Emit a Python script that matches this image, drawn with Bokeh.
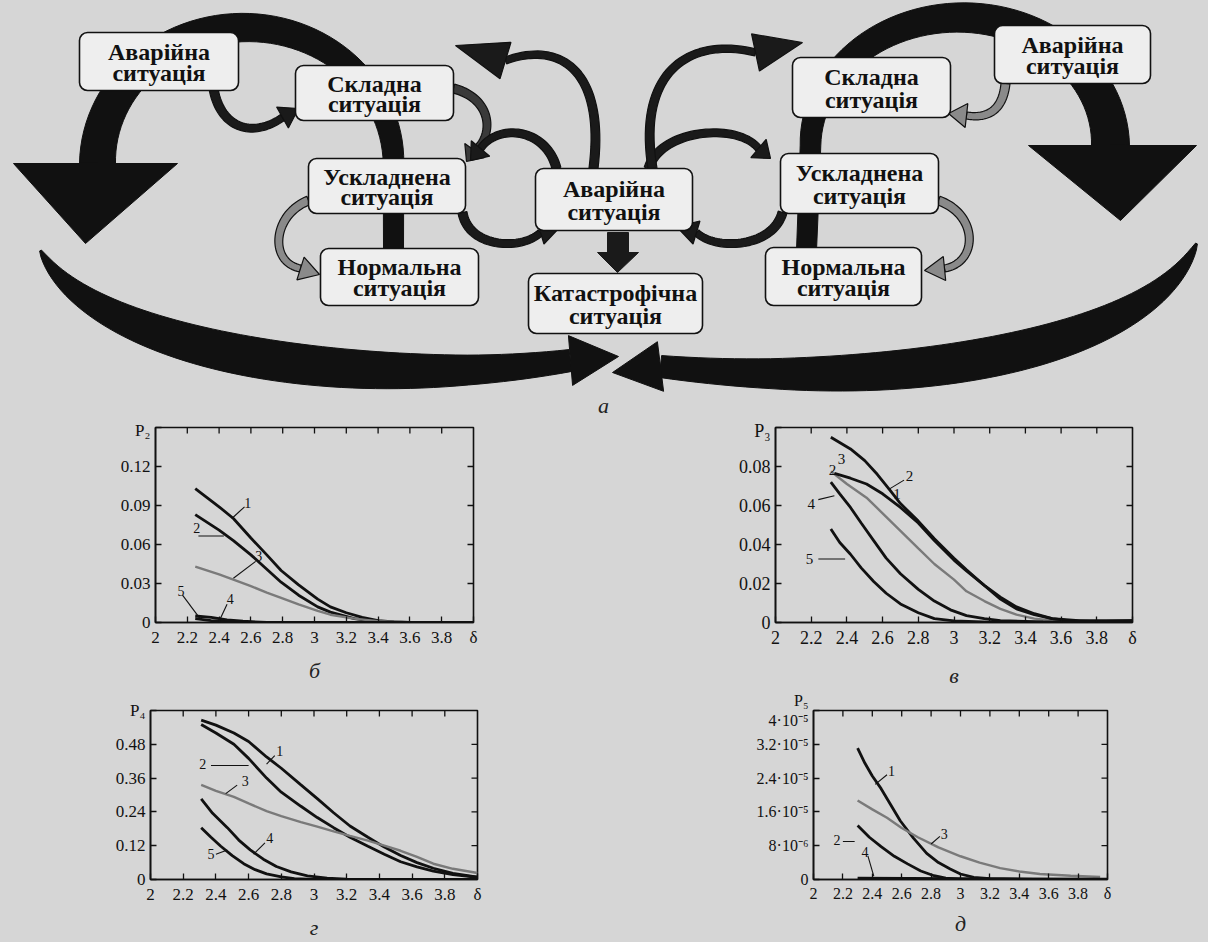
import numpy as np
from bokeh.plotting import figure
from bokeh.layouts import column, row
from bokeh.models import Range1d, FixedTicker
from bokeh.embed import file_html
from bokeh.resources import INLINE
from bokeh.core.properties import value

BG = "#d6d6d6"
BOXFILL = "#eeeeee"
SERIF = "Liberation Serif"

# ---------------- data ----------------
delta_ticks = [2.0, 2.2, 2.4, 2.6, 2.8, 3.0, 3.2, 3.4, 3.6, 3.8, 4.0]
delta_labels = ["2", "2.2", "2.4", "2.6", "2.8", "3", "3.2", "3.4", "3.6", "3.8", "δ"]

# б : P2
p2_ticks = [0.0, 0.03, 0.06, 0.09, 0.12, 0.15]
p2_labels = ["0", "0.03", "0.06", "0.09", "0.12", "P₂"]
p2_d1 = [2.25, 2.4, 2.49, 2.6, 2.7, 2.79, 2.9, 3.02, 3.1, 3.2, 3.3, 3.4, 3.5, 3.6, 4.0]
p2_c1 = [0.103, 0.089, 0.080, 0.065, 0.052, 0.040, 0.029, 0.018, 0.012, 0.0075, 0.004, 0.0015, 0.0005, 0.0, 0.0]
p2_d2 = [2.25, 2.4, 2.49, 2.6, 2.7, 2.79, 2.9, 3.02, 3.1, 3.25, 3.4, 3.6, 4.0]
p2_c2 = [0.083, 0.071, 0.063, 0.052, 0.041, 0.031, 0.021, 0.012, 0.008, 0.003, 0.0005, 0.0, 0.0]
p2_d3 = [2.25, 2.4, 2.49, 2.6, 2.7, 2.79, 2.9, 3.02, 3.1, 3.25, 3.4, 3.6, 4.0]
p2_c3 = [0.043, 0.037, 0.033, 0.028, 0.023, 0.019, 0.014, 0.009, 0.006, 0.003, 0.001, 0.0, 0.0]
p2_d4 = [2.25, 2.35, 2.5, 2.6, 4.0]
p2_c4 = [0.003, 0.0015, 0.0005, 0.0, 0.0]
p2_d5 = [2.25, 2.35, 2.45, 2.55, 2.7, 4.0]
p2_c5 = [0.005, 0.004, 0.002, 0.001, 0.0, 0.0]
p2_lab = ["1", "2", "3", "4", "5"]
p2_lab_x = [2.58, 2.26, 2.65, 2.47, 2.16]
p2_lab_y = [0.092, 0.073, 0.051, 0.018, 0.024]

# в : P3
p3_ticks = [0.0, 0.02, 0.04, 0.06, 0.08, 0.1]
p3_labels = ["0", "0.02", "0.04", "0.06", "0.08", "P₃"]
p3_d1 = [2.31, 2.4, 2.51, 2.6, 2.7, 2.8, 2.89, 3.0, 3.07, 3.17, 3.26, 3.35, 3.45, 3.6, 4.0]
p3_c1 = [0.0775, 0.071, 0.064, 0.056, 0.047, 0.038, 0.030, 0.022, 0.016, 0.011, 0.007, 0.004, 0.002, 0.0005, 0.0003]
p3_d2 = [2.33, 2.42, 2.51, 2.6, 2.7, 2.8, 2.89, 3.0, 3.07, 3.17, 3.26, 3.35, 3.45, 3.55, 3.64, 3.8, 4.0]
p3_c2 = [0.0765, 0.074, 0.071, 0.066, 0.059, 0.051, 0.042, 0.032, 0.0265, 0.019, 0.013, 0.008, 0.0045, 0.002, 0.001, 0.0005, 0.001]
p3_d3 = [2.31, 2.42, 2.5, 2.57, 2.64, 2.7, 2.8, 2.89, 3.0, 3.07, 3.17, 3.26, 3.35, 3.45, 3.55, 3.7, 4.0]
p3_c3 = [0.095, 0.089, 0.083, 0.076, 0.068, 0.061, 0.052, 0.043, 0.033, 0.027, 0.019, 0.012, 0.007, 0.004, 0.002, 0.001, 0.001]
p3_d4 = [2.31, 2.36, 2.42, 2.48, 2.55, 2.62, 2.7, 2.8, 2.89, 2.98, 3.07, 3.17, 3.26, 3.5, 4.0]
p3_c4 = [0.072, 0.066, 0.059, 0.051, 0.042, 0.033, 0.025, 0.017, 0.011, 0.0065, 0.0035, 0.002, 0.001, 0.0003, 0.0]
p3_d5 = [2.31, 2.36, 2.42, 2.48, 2.55, 2.62, 2.7, 2.8, 2.89, 3.0, 3.2, 4.0]
p3_c5 = [0.048, 0.041, 0.035, 0.028, 0.021, 0.015, 0.0095, 0.005, 0.002, 0.0008, 0.0002, 0.0]
p3_lab = ["3", "2", "2", "1", "4", "5"]
p3_lab_x = [2.37, 2.32, 2.75, 2.68, 2.2, 2.19]
p3_lab_y = [0.084, 0.078, 0.075, 0.066, 0.061, 0.0326]

# г : P4
p4_ticks = [0.0, 0.12, 0.24, 0.36, 0.48, 0.6]
p4_labels = ["0", "0.12", "0.24", "0.36", "0.48", "P₄"]
p4_d1 = [2.31, 2.4, 2.51, 2.6, 2.71, 2.8, 2.92, 3.02, 3.12, 3.22, 3.33, 3.43, 3.53, 3.63, 3.73, 3.85, 4.0]
p4_c1 = [0.566, 0.548, 0.52, 0.49, 0.435, 0.395, 0.336, 0.287, 0.237, 0.19, 0.15, 0.115, 0.085, 0.06, 0.04, 0.022, 0.008]
p4_d2 = [2.31, 2.4, 2.51, 2.6, 2.71, 2.8, 2.92, 3.02, 3.12, 3.22, 3.33, 3.43, 3.53, 3.63, 3.73, 3.85, 4.0]
p4_c2 = [0.55, 0.52, 0.48, 0.43, 0.36, 0.31, 0.26, 0.22, 0.184, 0.15, 0.118, 0.09, 0.063, 0.045, 0.03, 0.017, 0.008]
p4_d3 = [2.31, 2.4, 2.51, 2.6, 2.71, 2.8, 2.92, 3.02, 3.12, 3.22, 3.33, 3.43, 3.53, 3.63, 3.73, 3.85, 4.0]
p4_c3 = [0.336, 0.315, 0.293, 0.27, 0.243, 0.225, 0.204, 0.188, 0.171, 0.155, 0.138, 0.12, 0.102, 0.08, 0.056, 0.038, 0.023]
p4_d4 = [2.31, 2.38, 2.47, 2.54, 2.61, 2.69, 2.77, 2.86, 2.96, 3.08, 3.2, 3.5, 4.0]
p4_c4 = [0.286, 0.235, 0.184, 0.14, 0.105, 0.072, 0.046, 0.027, 0.013, 0.005, 0.001, 0.0, 0.0]
p4_d5 = [2.31, 2.37, 2.43, 2.5, 2.57, 2.64, 2.71, 2.8, 2.88, 3.0, 4.0]
p4_c5 = [0.184, 0.15, 0.118, 0.085, 0.056, 0.035, 0.02, 0.009, 0.003, 0.0, 0.0]
p4_lab = ["1", "2", "3", "4", "5"]
p4_lab_x = [2.79, 2.32, 2.58, 2.73, 2.37]
p4_lab_y = [0.455, 0.41, 0.35, 0.148, 0.089]

# д : P5
p5_ticks = [0.0, 8e-6, 1.6e-5, 2.4e-5, 3.2e-5, 4e-5]
p5_labels = ["0", "8·10⁻⁶", "1.6·10⁻⁵", "2.4·10⁻⁵", "3.2·10⁻⁵", "P₅\n4·10⁻⁵"]
p5_d1 = [2.30, 2.35, 2.4, 2.46, 2.52, 2.59, 2.68, 2.77, 2.85, 2.93, 3.0, 3.09, 3.2, 3.5, 4.0]
p5_c1 = [3.11e-5, 2.75e-5, 2.45e-5, 2.15e-5, 1.8e-5, 1.39e-5, 0.98e-5, 0.62e-5, 0.4e-5, 0.25e-5, 0.13e-5, 0.05e-5, 0.02e-5, 0.0, 0.0]
p5_d2 = [2.30, 2.38, 2.46, 2.55, 2.64, 2.73, 2.82, 2.9, 3.0, 4.0]
p5_c2 = [1.28e-5, 1.0e-5, 0.78e-5, 0.55e-5, 0.37e-5, 0.2e-5, 0.09e-5, 0.03e-5, 0.0, 0.0]
p5_d3 = [2.30, 2.4, 2.5, 2.6, 2.71, 2.85, 3.0, 3.13, 3.27, 3.4, 3.54, 3.75, 3.95]
p5_c3 = [1.87e-5, 1.66e-5, 1.46e-5, 1.22e-5, 1.0e-5, 0.76e-5, 0.55e-5, 0.4e-5, 0.27e-5, 0.19e-5, 0.13e-5, 0.09e-5, 0.06e-5]
p5_d4 = [2.30, 3.0, 4.0]
p5_c4 = [0.03e-5, 0.02e-5, 0.01e-5]
p5_lab = ["1", "2", "3", "4"]
p5_lab_x = [2.53, 2.16, 2.89, 2.35]
p5_lab_y = [2.56e-5, 0.94e-5, 1.08e-5, 0.64e-5]

# diagram boxes: (left, right, top, bottom) and two text lines
box_left = [79, 295, 308, 320, 535, 528, 792, 994, 780, 765]
box_right = [238, 453, 465, 478, 692, 702, 950, 1150, 938, 921]
box_top = [32, 65, 158, 248, 168, 273, 57, 25, 153, 247]
box_bottom = [90, 120, 213, 305, 230, 333, 117, 83, 213, 305]
box_line1 = ["Аварійна", "Складна", "Ускладнена", "Нормальна", "Аварійна",
             "Катастрофічна", "Складна", "Аварійна", "Ускладнена", "Нормальна"]
box_line2 = ["ситуація"] * 10


# ---------------- diagram ----------------
def cubic(P, n=40):
    t = np.linspace(0, 1, n)[:, None]
    P = np.array(P, float)
    return (1 - t) ** 3 * P[0] + 3 * (1 - t) ** 2 * t * P[1] + 3 * (1 - t) * t ** 2 * P[2] + t ** 3 * P[3]


def band(pts, w):
    pts = np.asarray(pts, float)
    dd = np.gradient(pts, axis=0)
    dd /= np.linalg.norm(dd, axis=1)[:, None] + 1e-9
    nrm = np.stack([-dd[:, 1], dd[:, 0]], axis=1)
    w = np.asarray(w, float)[:, None]
    a = pts + nrm * w / 2
    b = pts - nrm * w / 2
    poly = np.concatenate([a, b[::-1]])
    return list(poly[:, 0]), list(poly[:, 1])


def head(base, tip, width):
    base = np.array(base, float)
    tip = np.array(tip, float)
    dv = tip - base
    dv /= np.linalg.norm(dv)
    n = np.array([-dv[1], dv[0]])
    pa = base + n * width / 2
    pb = base - n * width / 2
    return [pa[0], tip[0], pb[0]], [pa[1], tip[1], pb[1]]


def ellipse_arc(cx, cy, rx, ry, a0, a1, n=60):
    a = np.radians(np.linspace(a0, a1, n))
    return np.stack([cx + rx * np.cos(a), cy - ry * np.sin(a)], axis=1)


d = figure(width=1208, height=420, x_range=Range1d(0, 1208), y_range=Range1d(420, 0),
           output_backend="svg", toolbar_location=None, min_border=0)
d.axis.visible = False
d.grid.visible = False
d.outline_line_color = None
d.background_fill_color = BG
d.border_fill_color = BG

polys_x, polys_y, cols = [], [], []

# big left arc
arc = ellipse_arc(245, 163, 148, 136, 0, 180)
stem = np.array([[393, 250], [393, 200]])
pts = np.concatenate([stem, arc])
w = np.linspace(20, 36, len(pts))
px, py = band(pts, w)
polys_x.append(px); polys_y.append(py); cols.append("#111111")
polys_x.append([13, 85, 177]); polys_y.append([163, 243, 163]); cols.append("#111111")

# big right arc
arc = ellipse_arc(960, 145, 150, 128, 180, 0)
stem = np.array([[806, 250], [808, 200]])
pts = np.concatenate([stem, arc])
w = np.linspace(20, 38, len(pts))
px, py = band(pts, w)
polys_x.append(px); polys_y.append(py); cols.append("#111111")
polys_x.append([1028, 1120, 1196]); polys_y.append([145, 220, 145]); cols.append("#111111")

# bottom swooshes
for P, tip, hw in [([(40, 250), (90, 350), (350, 392), (570, 360)], (618, 356), 50),
                   ([(1196, 243), (1150, 350), (900, 392), (660, 366)], (612, 372), 50)]:
    pts = cubic(P, 60)
    t = np.linspace(0, 1, 60)
    w = 2 + 38 * np.sin(np.pi * np.clip(t * 0.9, 0, 1)) ** 0.8
    w[-10:] = np.linspace(w[-10], 22, 10)
    px, py = band(pts, w)
    polys_x.append(px); polys_y.append(py); cols.append("#111111")
    hx, hy = head(pts[-1], tip, hw)
    polys_x.append(hx); polys_y.append(hy); cols.append("#111111")

d.patches(polys_x, polys_y, fill_color=cols, line_color=cols, line_width=1)

# thin curved arrows: control points, tip, fill, head width
thin = [
    ([(213, 88), (220, 128), (252, 138), (282, 117)], (298, 108), "#1a1a1a", 24),
    ([(453, 88), (492, 98), (494, 135), (474, 150)], (466, 161), "#3a3a3a", 24),
    ([(308, 200), (272, 214), (268, 262), (300, 268)], (319, 274), "#8a8a8a", 24),
    ([(556, 168), (546, 128), (498, 122), (480, 148)], (470, 160), "#1a1a1a", 24),
    ([(593, 168), (605, 70), (560, 40), (505, 60)], (455, 45), "#1a1a1a", 38),
    ([(462, 212), (468, 248), (522, 250), (540, 232)], (560, 226), "#1a1a1a", 24),
    ([(648, 168), (660, 128), (738, 122), (758, 148)], (770, 158), "#1a1a1a", 24),
    ([(652, 168), (636, 70), (690, 36), (755, 52)], (802, 42), "#1a1a1a", 38),
    ([(782, 212), (772, 248), (714, 250), (696, 232)], (676, 226), "#1a1a1a", 24),
    ([(1005, 83), (1002, 112), (985, 118), (966, 115)], (948, 113), "#8a8a8a", 24),
    ([(938, 200), (978, 214), (978, 262), (944, 268)], (924, 270), "#8a8a8a", 24),
]
tx, ty, tc = [], [], []
for P, tip, c, hw in thin:
    pts = cubic(P, 40)
    w = np.linspace(9, 7, 40)
    px, py = band(pts, w)
    tx.append(px); ty.append(py); tc.append(c)
    hx, hy = head(pts[-1], tip, hw)
    tx.append(hx); ty.append(hy); tc.append(c)
d.patches(tx, ty, fill_color=tc, line_color="#111111", line_width=1.2)

# small straight down arrow
d.patches([[607, 628, 628, 607], [597, 617, 638]], [[232, 232, 253, 253], [252, 272, 252]],
          fill_color="#1a1a1a", line_color="#1a1a1a")

# boxes
d.quad(left=box_left, right=box_right, top=box_top, bottom=box_bottom,
       fill_color=BOXFILL, line_color="#111111", line_width=1.6, border_radius=8)
cx = [(a + b) / 2 for a, b in zip(box_left, box_right)]
cy1 = [t + (b - t) * 0.33 for t, b in zip(box_top, box_bottom)]
cy2 = [t + (b - t) * 0.70 for t, b in zip(box_top, box_bottom)]
for ys, txt in [(cy1, box_line1), (cy2, box_line2)]:
    d.text(x=cx, y=ys, text=txt, text_align="center", text_baseline="middle",
           text_font=value(SERIF), text_font_style="bold", text_font_size="24px",
           text_color="#111111")
d.text(x=[603], y=[405], text=["а"], text_align="center", text_baseline="middle",
       text_font=value(SERIF), text_font_style="italic", text_font_size="22px", text_color="#222222")


# ---------------- small plots ----------------
def make_plot(width, height, bl, br, bt, bb, ymax, yticks, ylabels, fsize, caption,
              lab_standoff, cap_standoff):
    p = figure(width=width, height=height, x_range=Range1d(2, 4), y_range=Range1d(0, ymax),
               output_backend="svg", toolbar_location=None,
               min_border_left=bl, min_border_right=br, min_border_top=bt, min_border_bottom=bb)
    p.grid.visible = False
    p.background_fill_color = BG
    p.border_fill_color = BG
    p.outline_line_color = "#111111"
    p.outline_line_width = 1.6
    bottom = p.below[0]
    left = p.left[0]
    bottom.ticker = FixedTicker(ticks=delta_ticks)
    left.ticker = FixedTicker(ticks=yticks)
    bottom.major_label_overrides = dict(zip(delta_ticks, delta_labels))
    left.major_label_overrides = dict(zip(yticks, ylabels))
    for ax in (bottom, left):
        ax.axis_line_color = "#111111"
        ax.axis_line_width = 1.6
        ax.major_tick_in = 6
        ax.major_tick_out = 0
        ax.major_tick_line_color = "#111111"
        ax.major_tick_line_width = 1.3
        ax.minor_tick_in = 0
        ax.minor_tick_out = 0
        ax.major_label_text_font = SERIF
        ax.major_label_text_color = "#111111"
        ax.major_label_text_font_size = fsize
        ax.major_label_standoff = lab_standoff
    bottom.axis_label = caption
    bottom.axis_label_text_font = SERIF
    bottom.axis_label_text_font_style = "italic"
    bottom.axis_label_text_font_size = "22px"
    bottom.axis_label_text_color = "#222222"
    bottom.axis_label_standoff = cap_standoff
    # inward ticks on the top and right edges
    p.ray(x=delta_ticks[1:-1], y=[ymax] * (len(delta_ticks) - 2), length=6, length_units="screen",
          angle=-np.pi / 2, line_color="#111111", line_width=1.3)
    p.ray(x=[4] * (len(yticks) - 2), y=yticks[1:-1], length=6, length_units="screen",
          angle=np.pi, line_color="#111111", line_width=1.3)
    return p


def add_curves(p, xs, ys, colors):
    for x, y, c in zip(xs, ys, colors):
        p.line(x, y, line_color=c, line_width=2.8 if c != "#7a7a7a" else 2.4)


def add_labels(p, lx, ly, lt, size="14px"):
    p.text(x=lx, y=ly, text=lt, text_align="center", text_baseline="middle",
           text_font=value(SERIF), text_font_size=size, text_color="#111111")


K = "#111111"
G = "#7a7a7a"

# б
pb = make_plot(485, 270, 155, 12, 7, 67, 0.15, p2_ticks, p2_labels, "17px", "б", 5, 8)
add_curves(pb, [p2_d1, p2_d2, p2_d3, p2_d4, p2_d5], [p2_c1, p2_c2, p2_c3, p2_c4, p2_c5], [K, K, G, K, K])
pb.segment(x0=[2.56, 2.27, 2.63, 2.45, 2.17], y0=[0.089, 0.0665, 0.047, 0.014, 0.021],
           x1=[2.48, 2.43, 2.49, 2.40, 2.28], y1=[0.080, 0.0665, 0.034, 0.001, 0.003],
           line_color=K, line_width=1.1)
add_labels(pb, p2_lab_x, p2_lab_y, p2_lab)

# в
pv = make_plot(723, 270, 290, 76, 6, 68, 0.1, p3_ticks, p3_labels, "18px", "в", 5, 12)
add_curves(pv, [p3_d1, p3_d2, p3_d3, p3_d4, p3_d5], [p3_c1, p3_c2, p3_c3, p3_c4, p3_c5], [G, K, K, K, K])
pv.segment(x0=[2.72, 2.24, 2.24], y0=[0.073, 0.063, 0.0326], x1=[2.63, 2.33, 2.39], y1=[0.068, 0.065, 0.0326],
           line_color=K, line_width=1.1)
add_labels(pv, p3_lab_x, p3_lab_y, p3_lab, "15px")

# г
pg = make_plot(490, 252, 150, 13, 5, 63, 0.6, p4_ticks, p4_labels, "17px", "г", 5, 8)
add_curves(pg, [p4_d1, p4_d2, p4_d3, p4_d4, p4_d5], [p4_c1, p4_c2, p4_c3, p4_c4, p4_c5], [K, K, G, K, K])
pg.segment(x0=[2.76, 2.37, 2.53, 2.70, 2.40], y0=[0.44, 0.405, 0.335, 0.13, 0.09],
           x1=[2.71, 2.6, 2.46, 2.63, 2.47], y1=[0.41, 0.405, 0.305, 0.09, 0.105],
           line_color=K, line_width=1.1)
add_labels(pg, p4_lab_x, p4_lab_y, p4_lab)

# д
pd = make_plot(718, 252, 323, 101, 20, 58, 4e-5, p5_ticks, p5_labels, "16px", "д", 5, 6)
add_curves(pd, [p5_d1, p5_d2, p5_d3, p5_d4], [p5_c1, p5_c2, p5_c3, p5_c4], [K, K, G, K])
pd.segment(x0=[2.5, 2.2, 2.86, 2.37], y0=[2.48e-5, 0.9e-5, 1.02e-5, 0.56e-5],
           x1=[2.42, 2.28, 2.8, 2.41], y1=[2.25e-5, 0.9e-5, 0.84e-5, 0.08e-5],
           line_color=K, line_width=1.1)
add_labels(pd, p5_lab_x, p5_lab_y, p5_lab)

st = {"background-color": BG}
p = column(d, row(pb, pv, styles=st), row(pg, pd, styles=st), spacing=0, styles=st)
open("out.html", "w").write(file_html(p, INLINE))
